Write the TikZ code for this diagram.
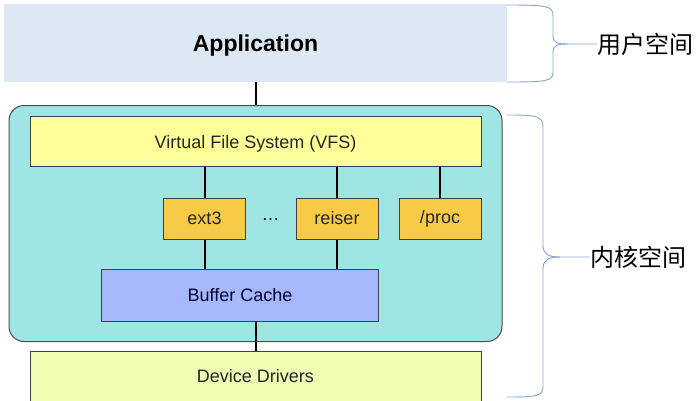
\documentclass[tikz,border=0pt]{standalone}
\usepackage{fontspec}
\setmainfont{Liberation Sans}
\newfontfamily\cjk{Noto Sans CJK SC}
\definecolor{appblue}{HTML}{DCE8F4}
\definecolor{kerncyan}{HTML}{9FE5E3}
\definecolor{vfsyellow}{HTML}{FFFF99}
\definecolor{fsgold}{HTML}{F7CB46}
\definecolor{bufblue}{HTML}{A4B8FB}
\definecolor{drvgreen}{HTML}{F0FCB2}
\definecolor{bracecol}{HTML}{8AA4D6}
\begin{document}
\begin{tikzpicture}[x=1pt,y=-1pt,
  layer/.style={draw=black!75, line width=1pt, inner sep=0pt,
    font=\fontsize{18}{20}\selectfont, text=black!85},
  fsbox/.style={layer, fill=fsgold, minimum width=82pt, minimum height=41pt},
  link/.style={line width=2pt, black},
  spacebrace/.style={line width=0.9pt, bracecol},
  spacelabel/.style={anchor=west, inner sep=0pt, font=\cjk\fontsize{24}{26}\selectfont}]
\useasboundingbox (0,0) rectangle (699,400);
\clip (0,0) rectangle (699,400);
% user space
\node[fill=appblue, minimum width=503pt, minimum height=78pt, inner sep=0pt, text depth=0pt,
  font=\bfseries\fontsize{23}{25}\selectfont] (app) at (255.5,43) {Application};
% kernel space
\node[draw=black!70, line width=1pt, fill=kerncyan, rounded corners=15pt,
  minimum width=493pt, minimum height=236pt] (kernel) at (255.5,223.5) {};
\node[layer, fill=vfsyellow, minimum width=451pt, minimum height=50pt, text depth=0pt] (vfs) at (255.5,141.5) {Virtual File System (VFS)};
\node[fsbox] (ext3) at (204.5,218.5) {ext3};
\node[font=\fontsize{18}{20}\selectfont] (dots) at (270.5,220) {\dots};
\node[fsbox] (reiser) at (337,218.5) {reiser};
\node[fsbox] (proc) at (440,218.5) {/proc};
\node[layer, fill=bufblue, minimum width=277pt, minimum height=52pt, text=black!80!blue] (buffer) at (240,295) {Buffer Cache};
\node[layer, fill=drvgreen, minimum width=451pt, minimum height=50pt] (drivers) at (255.5,376) {Device Drivers};
% connectors
\draw[link] (app.south) -- (kernel.north);
\foreach \fs in {ext3,reiser,proc}
  \draw[link] (vfs.south -| \fs.north) -- (\fs.north);
\foreach \fs in {ext3,reiser}
  \draw[link] (\fs.south) -- (buffer.north -| \fs.south);
\draw[link] (buffer.south -| drivers.north) -- (drivers.north);
% braces
\node[spacelabel] (user) at (597,44) {用户空间};
\node[spacelabel] (kern) at (590,257) {内核空间};
\draw[spacebrace] (507,5) .. controls (548,5) and (553,6) .. (553,16) -- (553,36)
  .. controls (553,43) and (558,44) .. (568,44) -- (user.west);
\draw[spacebrace] (568,44) .. controls (558,44) and (553,45) .. (553,52) -- (553,72)
  .. controls (553,81) and (548,82) .. (507,82);
\draw[spacebrace] (507,115) .. controls (538,115) and (543,116) .. (543,128) -- (543,245)
  .. controls (543,254) and (548,257) .. (560,257) -- (kern.west);
\draw[spacebrace] (560,257) .. controls (548,257) and (543,260) .. (543,269) -- (543,386)
  .. controls (543,396) and (538,397) .. (507,397);
\end{tikzpicture}
\end{document}
